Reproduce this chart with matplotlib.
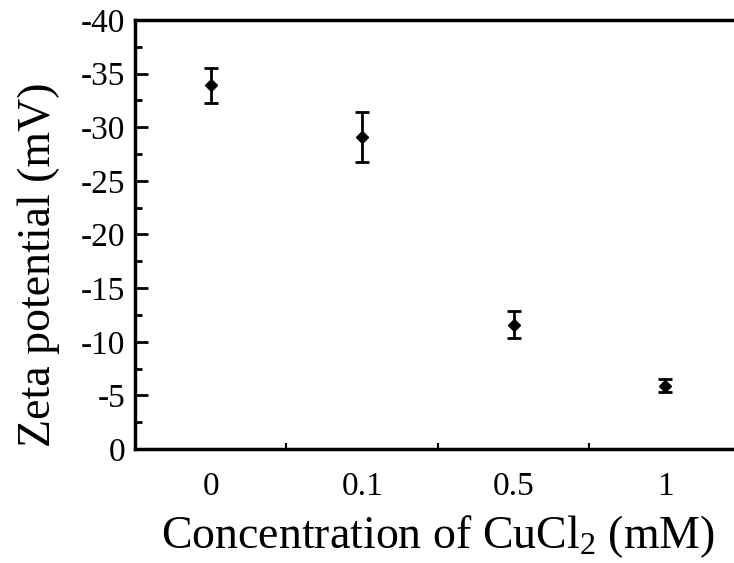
import matplotlib
matplotlib.use("Agg")
import matplotlib.pyplot as plt
from matplotlib.ticker import MultipleLocator, FixedLocator

categories = ["0", "0.1", "0.5", "1"]
zeta = [-33.9, -29.1, -11.6, -5.9]
err = [1.6, 2.3, 1.25, 0.6]

plt.rcParams['font.family'] = ['Liberation Serif', 'DejaVu Serif']
plt.rcParams['mathtext.fontset'] = 'custom'
plt.rcParams['mathtext.rm'] = 'Liberation Serif'
plt.rcParams['mathtext.it'] = 'Liberation Serif:italic'

fig = plt.figure(figsize=(7.34, 5.63), dpi=100)
# right spine falls outside the figure as in the reference
ax = fig.add_axes([135/734, (563-449)/563, (741-135)/734, (449-20)/563])

x = list(range(1, len(categories) + 1))
ax.errorbar(x, zeta, yerr=err, fmt='D', color='black', markersize=6,
            ecolor='black', elinewidth=2, capsize=5, capthick=2)

ax.set_xlim(0.5, 4.5)
ax.set_ylim(0, -40)
ax.set_xticks(x)
ax.set_xticklabels(categories)
ax.xaxis.set_minor_locator(FixedLocator([1.5, 2.5, 3.5]))
ax.yaxis.set_major_locator(MultipleLocator(5))
ax.yaxis.set_minor_locator(MultipleLocator(2.5))

ax.tick_params(axis='x', which='major', length=0, labelsize=24, pad=16)
ax.tick_params(axis='x', which='minor', direction='in', length=4, width=1.5)
ax.tick_params(axis='y', which='major', direction='in', length=9, width=2, labelsize=24, pad=7)
ax.tick_params(axis='y', which='minor', direction='in', length=5, width=2)
ax.set_yticklabels([f"{int(v)}" for v in ax.get_yticks()])

for s in ax.spines.values():
    s.set_linewidth(2.5)

ax.set_xlabel(r"Concentration of CuCl$_2$ (mM)", fontsize=33, labelpad=8)
ax.set_ylabel("Zeta potential (mV)", fontsize=33)
ax.yaxis.set_label_coords(-0.124, 0.43)

fig.savefig("out.png", dpi=100)
